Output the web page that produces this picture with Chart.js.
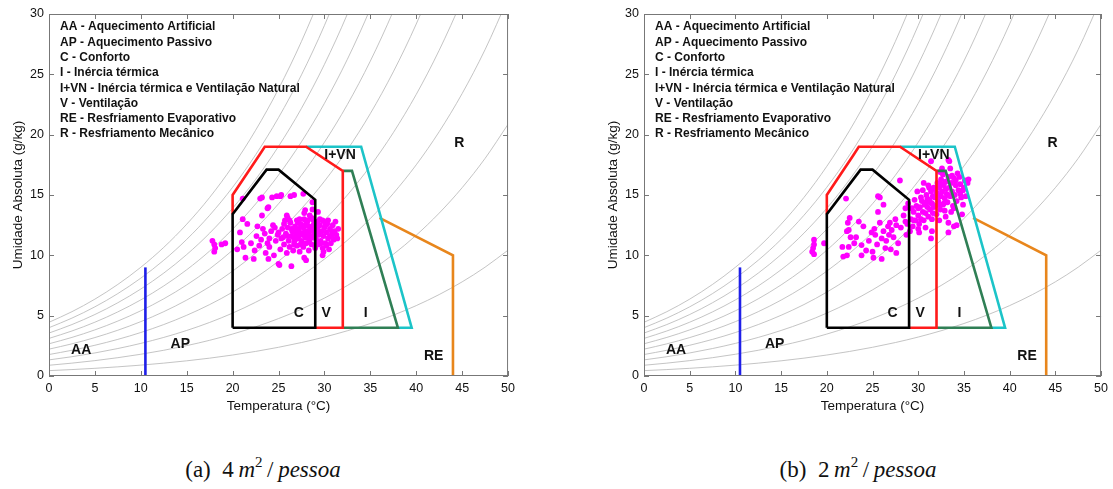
<!DOCTYPE html>
<html>
<head>
<meta charset="utf-8">
<script src="https://cdn.jsdelivr.net/npm/chart.js@4.4.1/dist/chart.umd.min.js"></script>
<style>
  body { margin: 0; background: #fff; width: 1113px; height: 489px; position: relative; overflow: hidden; }
  canvas { position: absolute; top: 0; }
  .cap { position: absolute; top: 457px; font-family: "Liberation Serif", "DejaVu Serif", serif; font-size: 23px; color: #111; transform: translateX(-50%); white-space: nowrap; }
  .cap sup { font-size: 15px; vertical-align: 0; position: relative; top: -10px; }
</style>
</head>
<body>
<canvas id="chartA" width="520" height="420" style="left:0"></canvas>
<canvas id="chartB" width="518" height="420" style="left:595px"></canvas>
<div class="cap" style="left:263px">(a)&nbsp; 4&thinsp;<i>m</i><sup>2</sup>&thinsp;/&thinsp;<i>pessoa</i></div>
<div class="cap" style="left:858px">(b)&nbsp; 2&thinsp;<i>m</i><sup>2</sup>&thinsp;/&thinsp;<i>pessoa</i></div>

<script>
// saturation curve (g/kg), relative humidity levels of the gray lines
var satTemp = [0, 2.5, 5, 7.5, 10, 12.5, 15, 17.5, 20, 22.5, 25, 27.5, 30, 32.5, 35, 37.5, 40, 42.5, 45, 47.5, 50];
var satHum = [4.45, 5.33, 6.37, 7.59, 9.01, 10.66, 12.58, 14.8, 17.38, 20.36, 23.79, 27.73, 32.28, 37.5, 43.5, 50.41, 58.34, 67.49, 78.03, 90.18, 104.3];
var rhLevels = [0.1, 0.2, 0.3, 0.4, 0.5, 0.6, 0.7, 0.8, 0.9, 1.0];

var xTicks = [0, 5, 10, 15, 20, 25, 30, 35, 40, 45, 50];
var yTicks = [0, 5, 10, 15, 20, 25, 30];

// zone outlines
var blueX = [10.5, 10.5];
var blueY = [0, 9];
var confortoX = [20, 20, 23.7, 25, 29, 29, 20];
var confortoY = [4, 13.4, 17.1, 17.1, 14.6, 4, 4];
var ventX = [20, 20, 22.9, 23.5, 28, 32, 32, 29];
var ventY = [13.4, 15, 18.3, 19, 19, 17, 4, 4];
var inerciaX = [32, 33, 38, 32];
var inerciaY = [17, 17, 4, 4];
var ivnX = [28, 34, 39.5, 38];
var ivnY = [19, 19, 4, 4];
var evapX = [36, 44, 44];
var evapY = [13.1, 10, 0];

var zoneNames = ["AA", "AP", "C", "V", "I", "I+VN", "RE", "R"];
var zoneNameX = [3.5, 14.3, 27.2, 30.2, 34.5, 31.7, 41.9, 44.7];
var zoneNameY = [2.15, 2.6, 5.2, 5.2, 5.2, 18.3, 1.65, 19.3];

var legendLines = [
  "AA - Aquecimento Artificial",
  "AP - Aquecimento Passivo",
  "C - Conforto",
  "I - Inércia térmica",
  "I+VN - Inércia térmica e Ventilação Natural",
  "V - Ventilação",
  "RE - Resfriamento Evaporativo",
  "R - Resfriamento Mecânico"
];

// (a) 4 m2/pessoa
var tempA = [17.8, 18.0, 18.0, 18.1, 18.8, 19.2, 20.5, 20.8, 21.0, 21.2, 21.1, 21.1, 21.6, 21.4, 22.3,
  23.0, 23.2, 24.3, 24.8, 25.2, 25.3, 26.3, 26.7, 27.7, 23.9, 23.8, 23.2, 25.9, 26.0, 28.7, 27.9, 28.7, 29.3, 27.8, 28.4,
  25.0, 26.4, 25.1, 23.9, 27.8, 28.0, 29.8, 29.9,
  22.0, 22.4, 22.6, 22.9, 23.1, 23.3, 23.6, 23.8, 24.0, 24.0, 24.2, 24.4, 24.5, 24.7, 24.9,
  25.2, 25.3, 25.4, 25.6, 25.6, 25.8, 25.9, 26.0, 26.1, 26.2, 26.3, 26.4, 26.5, 26.6, 26.7, 26.8, 26.9, 27.0, 27.0, 27.1,
  27.2, 27.3, 27.3, 27.4, 27.5, 27.6, 27.7, 27.7, 27.8, 27.9, 28.0, 28.0, 28.1, 28.2, 28.3, 28.3, 28.4, 28.5, 28.6, 28.6,
  28.7, 28.8, 28.9, 29.0, 29.0, 29.1, 29.2, 29.3, 29.4, 29.5, 29.5, 29.6, 29.7, 29.8, 29.9, 30.0, 30.0, 30.1, 30.2, 30.3,
  30.4, 30.4, 30.5, 30.6, 30.7, 30.8, 30.9, 31.0, 31.1, 31.3, 31.5,
  26.9, 27.2, 27.5, 27.8, 28.1, 28.4, 28.7, 28.2, 26.6, 27.4, 29.0, 29.3, 25.0, 24.6, 26.2, 23.5, 22.7, 25.5,
  26.4, 26.8, 27.1, 27.6, 27.9, 28.3, 28.8, 29.2, 29.6, 30.1, 30.6, 31.2, 26.0, 26.7, 27.3, 28.0, 28.6, 29.4, 30.2, 30.8,
  25.7, 27.0, 29.8, 31.4];
var humA = [11.2, 10.9, 10.3, 10.6, 10.9, 11.0, 10.5, 11.9, 11.1, 10.7, 13.0, 14.7, 12.6, 9.8, 9.7,
  14.7, 14.8, 14.8, 14.9, 14.9, 15.0, 14.9, 15.0, 15.1, 14.0, 13.9, 13.3, 13.3, 13.1, 14.4, 13.75, 13.8, 13.6, 13.5, 13.3,
  9.3, 9.1, 9.2, 9.7, 9.8, 9.6, 10.0, 10.3,
  11.0, 10.4, 11.6, 10.8, 11.3, 12.2, 10.2, 11.0, 11.4, 10.7, 12.0, 12.5, 10.0, 11.2, 11.7,
  10.5, 11.4, 12.2, 12.6, 10.9, 11.8, 10.2, 12.3, 11.2, 10.7, 12.7, 11.6, 12.0, 10.4, 11.1, 12.4, 11.8, 10.8, 12.9, 11.4,
  12.2, 11.9, 10.3, 12.6, 11.2, 11.7, 12.3, 10.7, 13.0, 11.5, 12.0, 11.0, 12.7, 11.8, 10.4, 12.4, 11.3, 12.1, 10.9, 13.1,
  11.6, 12.5, 11.9, 10.6, 12.8, 11.3, 12.2, 10.9, 11.7, 12.5, 13.0, 11.2, 12.0, 10.6, 11.6, 12.3, 12.8, 11.0, 11.9, 12.6,
  12.9, 11.4, 10.5, 12.2, 11.0, 11.7, 12.5, 11.3, 12.0, 11.7, 12.2,
  12.0, 11.6, 12.4, 11.9, 11.5, 12.0, 12.2, 12.9, 11.5, 10.9, 11.5, 12.6, 11.9, 12.3, 12.9, 11.8, 12.4, 11.5,
  12.2, 11.3, 12.7, 10.9, 12.5, 11.1, 12.9, 11.9, 11.0, 12.5, 11.6, 12.8, 11.6, 10.9, 13.0, 12.6, 11.5, 12.0, 10.8, 12.0,
  12.9, 11.9, 12.9, 11.4];

// (b) 2 m2/pessoa
var tempB = [18.6, 18.6, 18.4, 18.6, 18.5, 19.7,
  22.1, 22.5, 22.3, 22.4, 22.2, 22.6, 23.5, 23.2, 21.7, 22.4, 22.2, 21.8, 23.8, 23.8, 24.3, 24.6, 24.9, 25.2, 25.6, 25.8,
  25.6, 25.8, 25.3, 25.0, 25.5, 26.0, 26.2, 26.5, 26.4, 26.8, 26.2, 26.9, 26.7, 27.1, 27.3, 27.6, 27.0, 27.8, 28.0, 28.6,
  28.4, 28.6, 28.7, 29.1, 28.1, 27.5, 24.0, 23.0, 25.1, 26.0, 27.6,
  29.2, 29.4, 29.5, 29.7, 29.8, 30.0, 30.1, 30.2, 30.3, 30.4, 30.5, 30.6, 30.7, 30.8, 30.9, 31.0, 31.1, 31.2, 31.3, 31.4,
  31.4, 31.5, 31.5, 31.6, 31.7, 31.8, 31.9, 32.0, 32.0, 32.1, 32.2, 32.3, 32.4, 32.5, 32.5, 32.6, 32.7, 32.8, 32.9, 33.0,
  33.0, 33.1, 33.2, 33.3, 33.3, 33.3, 33.4, 33.4, 33.3, 33.5, 33.6, 33.7, 33.8, 33.9, 33.9, 34.0, 34.1, 34.2, 34.2, 34.3,
  34.4, 34.5, 34.6, 34.7, 34.9, 35.0, 35.1, 35.4, 31.4, 32.6, 30.6, 29.9, 30.1, 30.8, 32.3, 34.8, 35.2, 33.6,
  31.0, 31.6, 32.2, 32.8, 31.9, 32.4, 33.0, 31.3, 32.7, 30.5, 29.6, 28.9, 29.3, 28.8, 30.0,
  30.3, 30.9, 31.2, 31.7, 32.1, 32.6, 33.2, 33.7, 34.1, 34.6, 31.5, 32.9, 33.5, 30.0, 29.5, 34.9, 35.5, 32.4, 31.1, 33.9];
var humB = [11.3, 10.9, 10.3, 10.1, 10.6, 11.0,
  14.7, 13.1, 12.7, 12.1, 12.0, 11.5, 12.8, 11.5, 10.7, 10.7, 10.0, 9.9, 10.85, 10.0, 10.4, 11.2, 11.9, 12.2, 14.9, 14.8,
  13.6, 12.7, 11.7, 10.3, 10.9, 11.4, 12.0, 11.2, 10.6, 11.7, 14.2, 12.7, 12.4, 12.1, 11.5, 12.5, 10.5, 11.0, 16.2, 13.9,
  13.3, 12.8, 11.7, 12.0, 12.3, 13.0, 12.4, 11.0, 9.8, 9.7, 10.2,
  13.0, 12.4, 13.6, 12.9, 14.1, 13.3, 12.6, 14.0, 13.0, 14.5, 13.6, 12.9, 14.2, 13.5, 15.0, 14.0, 13.2, 14.6, 13.8, 15.3,
  11.4, 12.0, 14.3, 13.5, 15.6, 14.8, 14.1, 15.2, 13.4, 16.0, 14.5, 15.6, 13.8, 14.9, 16.3, 15.3, 14.2, 15.8, 14.7, 16.1,
  13.2, 15.1, 14.4, 16.5, 12.7, 11.9, 15.6, 17.8, 17.9, 14.9, 16.0, 15.3, 14.1, 16.4, 12.4, 15.0, 15.8, 12.5, 14.5, 16.8,
  15.4, 16.5, 15.9, 14.8, 14.2, 15.6, 16.2, 16.0, 17.8, 17.2, 16.0, 15.3, 11.9, 12.3, 12.9, 13.4, 14.9, 13.6,
  14.7, 14.9, 15.0, 14.3, 15.5, 14.2, 15.5, 14.4, 16.7, 15.4, 14.6, 14.3, 13.9, 12.6, 12.2,
  14.8, 14.4, 15.6, 14.0, 14.9, 15.9, 15.0, 16.6, 16.2, 15.1, 13.0, 13.7, 17.2, 13.9, 12.9, 15.4, 16.3, 16.9, 15.8, 13.9];

function toPoints(xs, ys) {
  return xs.map((x, i) => ({ x: x, y: ys[i] }));
}

function outline(xs, ys, color) {
  return {
    data: toPoints(xs, ys),
    showLine: true,
    borderColor: color,
    borderWidth: 2.6,
    pointRadius: 0,
    fill: false
  };
}

const sans = '"Liberation Sans", Arial, Helvetica, sans-serif';

const framePlugin = {
  id: "frame",
  afterDraw(chart) {
    const { ctx, chartArea: a, scales: { x, y } } = chart;
    ctx.save();
    ctx.strokeStyle = "#777";
    ctx.lineWidth = 1;
    ctx.strokeRect(a.left + 0.5, a.top + 0.5, a.right - a.left - 1, a.bottom - a.top - 1);
    ctx.beginPath();
    xTicks.forEach((v) => {
      const px = Math.round(x.getPixelForValue(v)) + 0.5;
      ctx.moveTo(px, a.bottom); ctx.lineTo(px, a.bottom - 5);
      ctx.moveTo(px, a.top); ctx.lineTo(px, a.top + 5);
    });
    yTicks.forEach((v) => {
      const py = Math.round(y.getPixelForValue(v)) + 0.5;
      ctx.moveTo(a.left, py); ctx.lineTo(a.left + 5, py);
      ctx.moveTo(a.right, py); ctx.lineTo(a.right - 5, py);
    });
    ctx.stroke();

    ctx.fillStyle = "#111";
    ctx.textBaseline = "middle";
    ctx.textAlign = "left";
    ctx.font = "bold 12px " + sans;
    legendLines.forEach((t, i) => {
      ctx.fillText(t, a.left + 11, a.top + 13 + i * 15.3);
    });

    ctx.font = "bold 14px " + sans;
    ctx.textAlign = "center";
    zoneNames.forEach((t, i) => {
      ctx.fillText(t, x.getPixelForValue(zoneNameX[i]), y.getPixelForValue(zoneNameY[i]));
    });
    ctx.restore();
  }
};

function makeChart(id, temps, hums, rightPad) {
  const datasets = [
    outline(blueX, blueY, "#1f1fe8"),
    outline(confortoX, confortoY, "#000000"),
    outline(ventX, ventY, "#ff1a1a"),
    outline(inerciaX, inerciaY, "#2f7f55"),
    outline(ivnX, ivnY, "#1cc4c8"),
    outline(evapX, evapY, "#e8861c"),
    {
      data: toPoints(temps, hums),
      showLine: false,
      pointRadius: 2.9,
      pointBorderWidth: 0,
      pointBackgroundColor: "#ff00ff",
      pointBorderColor: "#ff00ff"
    }
  ];
  rhLevels.forEach((rh) => {
    datasets.push({
      data: satTemp.map((t, i) => ({ x: t, y: satHum[i] * rh })),
      showLine: true,
      borderColor: "#b5b5b5",
      borderWidth: 0.8,
      pointRadius: 0,
      cubicInterpolationMode: "monotone"
    });
  });

  return new Chart(document.getElementById(id), {
    type: "scatter",
    data: { datasets: datasets },
    options: {
      responsive: false,
      animation: false,
      devicePixelRatio: 1,
      layout: { padding: { top: 14, right: rightPad, left: 0, bottom: 0 } },
      plugins: { legend: { display: false }, tooltip: { enabled: false } },
      scales: {
        x: {
          type: "linear",
          min: 0,
          max: 50,
          grid: { display: false, drawTicks: false },
          border: { display: false },
          ticks: { stepSize: 5, color: "#111", padding: 5, font: { size: 12.5, family: sans } },
          title: {
            display: true,
            text: "Temperatura (°C)",
            color: "#111",
            font: { size: 13.5, family: sans },
            padding: { top: 0, bottom: 6 }
          },
          afterFit: (scale) => { scale.height = 44; }
        },
        y: {
          type: "linear",
          min: 0,
          max: 30,
          grid: { display: false, drawTicks: false },
          border: { display: false },
          ticks: { stepSize: 5, color: "#111", padding: 5, font: { size: 12.5, family: sans } },
          title: {
            display: true,
            text: "Umidade Absoluta (g/kg)",
            color: "#111",
            font: { size: 13.5, family: sans },
            padding: { top: 10, bottom: 0 }
          },
          afterFit: (scale) => { scale.width = 49; }
        }
      }
    },
    plugins: [framePlugin]
  });
}

makeChart("chartA", tempA, humA, 11);
makeChart("chartB", tempB, humB, 9);
</script>
</body>
</html>
